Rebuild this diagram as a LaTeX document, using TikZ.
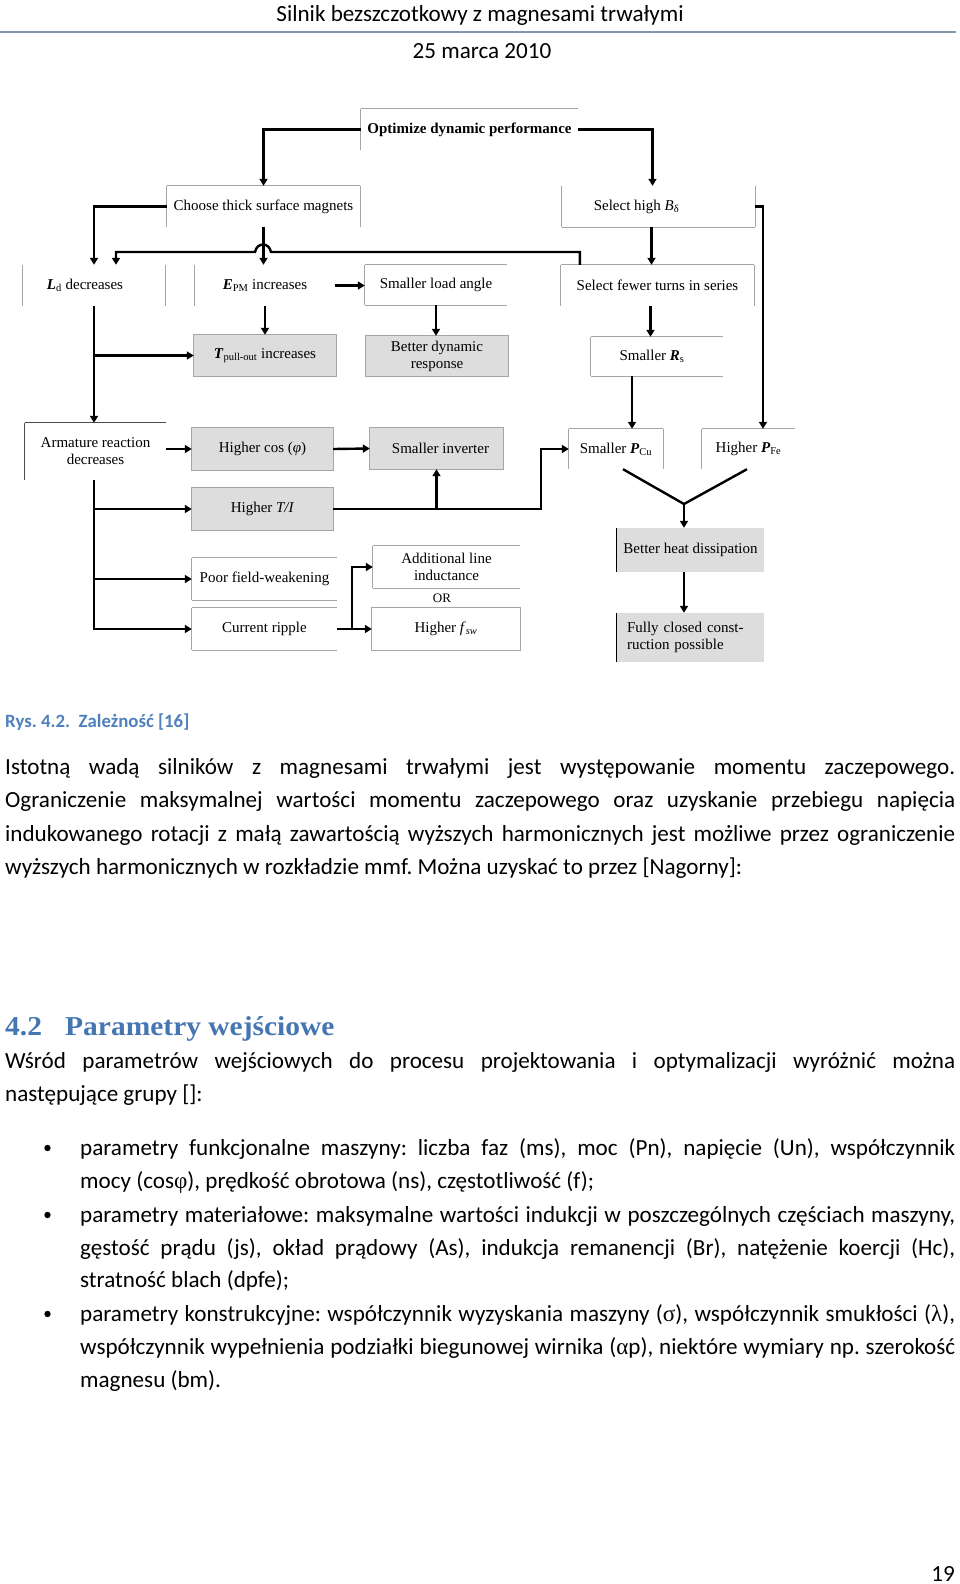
\documentclass[tikz,border=0pt]{standalone}
\usepackage{fontspec}
\setmainfont{Carlito}
\newfontfamily\dfont{Liberation Serif}
\newfontfamily\hfont[FakeStretch=1.08]{Liberation Serif}
\newfontfamily\gr{Liberation Serif}
\usetikzlibrary{arrows.meta}
\definecolor{capblue}{RGB}{79,129,189}
\definecolor{headblue}{RGB}{70,118,178}
\definecolor{rulec}{RGB}{130,150,175}
\definecolor{boxgray}{RGB}{221,221,221}
\definecolor{bordgray}{RGB}{165,165,165}
\newcommand\brdT[1]{\draw[bord] (#1.north west) -- (#1.north east);}
\newcommand\brdL[1]{\draw[bord] (#1.north west) -- (#1.south west);}
\newcommand\brdB[1]{\draw[bord] (#1.south west) -- (#1.south east);}
\newcommand\brdR[1]{\draw[bord] (#1.north east) -- (#1.south east);}
\newcommand\jl[2]{\makebox[#1pt][s]{#2}}
\frenchspacing
\begin{document}
\begin{tikzpicture}[x=1pt,y=-1pt,
  box/.style={inner sep=0pt, align=center, font=\dfont\fontsize{15}{17}\selectfont},
  gbox/.style={box, fill=boxgray},
  bord/.style={draw=bordgray, line width=0.9pt},
  dark/.style={draw=black, line width=1.2pt},
  arr/.style={line width=2.4pt, -{Triangle[length=7pt,width=8pt]}},
  ln/.style={line width=2.4pt},
  ptext/.style={anchor=base west, inner sep=0pt, font=\fontsize{23.1}{33}\selectfont},
  bul/.style={fill=black}]
\fill[white] (0,0) rectangle (960,1584);
\useasboundingbox (0,0) rectangle (960,1584);

% ---------- header ----------
\node[ptext, anchor=base] (hd) at (480,22) {Silnik bezszczotkowy z magnesami trwałymi};
\draw[rulec, line width=1.5pt] (0,32) -- (956,32);
\node[ptext, anchor=base] (date) at (482,59) {25 marca 2010};

% ---------- diagram boxes ----------
\node[box, minimum width=217, minimum height=41] (opt) at (469.5,129.5) {\bfseries Optimize dynamic performance};
\node[box, minimum width=193, minimum height=41] (choose) at (263.5,206.5) {Choose thick surface magnets};
\node[box, minimum width=193, minimum height=41] (selB) at (658.5,206.5) {Select high \textit{B}\textsubscript{δ}\hspace{44pt}};
\node[box, minimum width=142, minimum height=41] (Ld) at (94,285.5) {\textbf{\textit{L}}\textsubscript{d} decreases\hspace{18pt}};
\node[box, minimum width=140, minimum height=41] (Epm) at (265,285.5) {\textbf{\textit{E}}\textsubscript{PM} increases};
\node[box, minimum width=142, minimum height=40] (load) at (436,285) {Smaller load angle};
\node[box, minimum width=193, minimum height=41] (selF) at (657.5,285.5) {Select fewer turns in series};
\node[gbox, minimum width=142, minimum height=41] (Tpo) at (265,355.5) {\textbf{\textit{T}}\textsubscript{pull-out} increases};
\node[gbox, minimum width=142, minimum height=40] (bdr) at (437,356) {Better dynamic\\response};
\node[box, minimum width=132, minimum height=39] (Rs) at (657,356.5) {Smaller \textbf{\textit{R}}\textsubscript{s}\hspace{10pt}};
\node[box, minimum width=141, minimum height=57] (arm) at (95.5,451.5) {Armature reaction\\decreases};
\node[gbox, minimum width=141, minimum height=42] (cos) at (262.5,449) {Higher cos (\textit{φ})};
\node[gbox, minimum width=133, minimum height=41] (inv) at (436.5,448.5) {\hspace{8pt}Smaller inverter};
\node[box, minimum width=94, minimum height=40] (PCu) at (616,449) {Smaller \textbf{\textit{P}}\textsubscript{Cu}};
\node[box, minimum width=93, minimum height=40] (PFe) at (748.5,449) {Higher \textbf{\textit{P}}\textsubscript{Fe}};
\node[gbox, minimum width=141, minimum height=42] (TI) at (262.5,509) {Higher \textit{T/I}};
\node[gbox, minimum width=147, minimum height=44] (heat) at (690.5,550) {Better heat dissipation};
\node[box, minimum width=145, minimum height=42] (poor) at (264.5,579) {Poor field-weakening};
\node[box, minimum width=147, minimum height=42] (add) at (446.5,567) {Additional line\\inductance};
\node[box, minimum width=145, minimum height=42] (ripple) at (264.5,629) {Current ripple};
\node[box, minimum width=148, minimum height=42] (fsw) at (446,629) {Higher \textit{f}\textsubscript{\textit{sw}}};
\node[gbox, text width=127, align=left, inner xsep=10pt, minimum height=49] (closed) at (690.5,637.5) {Fully closed const-\\ruction possible};
\node[box] (or) at (442,598) {\fontsize{13}{15}\selectfont OR};

% ---------- visible box edges ----------
\brdT{opt}\brdL{opt}
\brdT{choose}\brdL{choose}\brdR{choose}
\brdL{selB}\brdB{selB}\brdR{selB}
\brdL{Ld}\brdR{Ld}
\brdL{Epm}
\brdT{load}\brdL{load}\brdB{load}
\brdT{selF}\brdL{selF}\brdR{selF}
\draw[bord] (Tpo.north west) rectangle (Tpo.south east);
\draw[bord] (bdr.north west) rectangle (bdr.south east);
\draw[bord] (cos.north west) rectangle (cos.south east);
\draw[bord] (inv.north west) rectangle (inv.south east);
\draw[bord] (TI.north west) rectangle (TI.south east);
\brdT{Rs}\brdL{Rs}\brdB{Rs}
\draw[draw=black!70, line width=0.9pt] (arm.north west) -- (arm.north east);
\draw[draw=black!70, line width=0.9pt] (arm.north west) -- (arm.south west);
\brdT{PCu}\brdL{PCu}\brdR{PCu}
\brdT{PFe}\brdL{PFe}
\draw[dark] (heat.north west) -- (heat.south west);
\draw[dark] (closed.north west) -- (closed.south west);
\brdT{poor}\brdL{poor}\brdB{poor}
\brdT{add}\brdL{add}\brdB{add}
\brdT{ripple}\brdL{ripple}\brdB{ripple}
\draw[bord] (fsw.north west) rectangle (fsw.south east);

% ---------- connectors ----------
\draw[arr] (opt.west) -| (choose.north);
\draw[arr] (opt.east) -| ([xshift=-6]selB.north);
\draw[arr] (choose.west) -| (Ld.north);
\draw[arr] (choose.south) -- (choose.south |- Epm.north);
\coordinate (hopR) at (271,252);
\coordinate (hopL) at (255,252);
\draw[arr] ([xshift=19]selF.north west) |- (hopR) .. controls (269,242) and (257,242) .. (hopL) -| ([xshift=22]Ld.north);
\draw[arr] (Epm.east) -- (Epm.east -| load.west);
\draw[arr] (Epm.south) -- (Tpo.north);
\draw[arr] (load.south) -- (load.south |- bdr.north);
\draw[arr] (selB.east) -| ([xshift=14.5]PFe.north);
\draw[arr] ([xshift=-7]selB.south) -- ([xshift=-7]selB.south |- selF.north);
\draw[arr] ([xshift=-7]selF.south) -- ([xshift=-7]selF.south |- Rs.north);
\draw[arr] ([xshift=-25]Rs.south) -- ([xshift=-25]Rs.south |- PCu.north);
\draw[arr] (Ld.south) -- (Ld.south |- arm.north);
\draw[arr] (Ld.south |- Tpo.west) -- (Tpo.west);
\draw[arr] (arm.east |- cos.west) -- (cos.west);
\draw[arr] (cos.east) -- (inv.west);
\draw[arr] ([xshift=-1.5]arm.south) |- (ripple.west);
\draw[arr] ([xshift=-1.5]arm.south |- TI.west) -- (TI.west);
\draw[arr] ([xshift=-1.5]arm.south |- poor.west) -- (poor.west);
\coordinate (k1) at (541,449);
\draw[arr] (TI.east) -| (k1) -- (PCu.west);
\draw[arr] (inv.south |- TI.east) -- (inv.south);
\draw[arr] (ripple.east) -- (fsw.west);
\coordinate (k2) at (352,629);
\draw[arr] (k2) |- (add.west);
\coordinate (ym) at (684,504);
\draw[ln, line join=miter] ([xshift=7]PCu.south) -- (ym) -- ([xshift=-1.5]PFe.south);
\draw[arr] (ym) -- (ym |- heat.north);
\draw[arr] (ym |- heat.south) -- (ym |- closed.north);

% ---------- caption and text ----------
\node[anchor=base west, inner sep=0pt, font=\bfseries\fontsize{18.8}{22}\selectfont, text=capblue] (cap) at (5,727) {Rys. 4.2.\ \ Zależność [16]};

\node[ptext] (p1) at (5,774) {\jl{950}{Istotną wadą silników z magnesami trwałymi jest występowanie momentu zaczepowego.}};
\node[ptext] (p2) at (5,807) {\jl{950}{Ograniczenie maksymalnej wartości momentu zaczepowego oraz uzyskanie przebiegu napięcia}};
\node[ptext] (p3) at (5,841) {\jl{950}{indukowanego rotacji z małą zawartością wyższych harmonicznych jest możliwe przez ograniczenie}};
\node[ptext] (p4) at (5,874) {wyższych harmonicznych w rozkładzie mmf. Można uzyskać to przez [Nagorny]:};

\node[anchor=base west, inner sep=0pt, font=\hfont\bfseries\fontsize{27.3}{30}\selectfont, text=headblue] (hn) at (5,1035) {4.2};
\node[anchor=base west, inner sep=0pt, font=\hfont\bfseries\fontsize{27.3}{30}\selectfont, text=headblue] (ht) at (65,1035) {Parametry wejściowe};

\node[ptext] (q1) at (5,1068) {\jl{950}{Wśród parametrów wejściowych do procesu projektowania i optymalizacji wyróżnić można}};
\node[ptext] (q2) at (5,1101) {następujące grupy []:};

\fill[bul] (47.5,1148) circle (3.2pt);
\node[ptext] (b1a) at (80,1155) {\jl{875}{parametry funkcjonalne maszyny: liczba faz (ms), moc (Pn), napięcie (Un), współczynnik}};
\node[ptext] (b1b) at (80,1188) {mocy (cos{\gr φ}), prędkość obrotowa (ns), częstotliwość (f);};
\fill[bul] (47.5,1215) circle (3.2pt);
\node[ptext] (b2a) at (80,1222) {\jl{875}{parametry materiałowe: maksymalne wartości indukcji w poszczególnych częściach maszyny,}};
\node[ptext] (b2b) at (80,1255) {\jl{875}{gęstość prądu (js), okład prądowy (As), indukcja remanencji (Br), natężenie koercji (Hc),}};
\node[ptext] (b2c) at (80,1287) {stratność blach (dpfe);};
\fill[bul] (47.5,1314) circle (3.2pt);
\node[ptext] (b3a) at (80,1321) {\jl{875}{parametry konstrukcyjne: współczynnik wyzyskania maszyny ({\gr σ}), współczynnik smukłości ({\gr λ}),}};
\node[ptext] (b3b) at (80,1354) {\jl{875}{współczynnik wypełnienia podziałki biegunowej wirnika ({\gr α}p), niektóre wymiary np. szerokość}};
\node[ptext] (b3c) at (80,1387) {magnesu (bm).};

\node[ptext, anchor=base east] (pg) at (955,1581) {19};
\end{tikzpicture}
\end{document}
